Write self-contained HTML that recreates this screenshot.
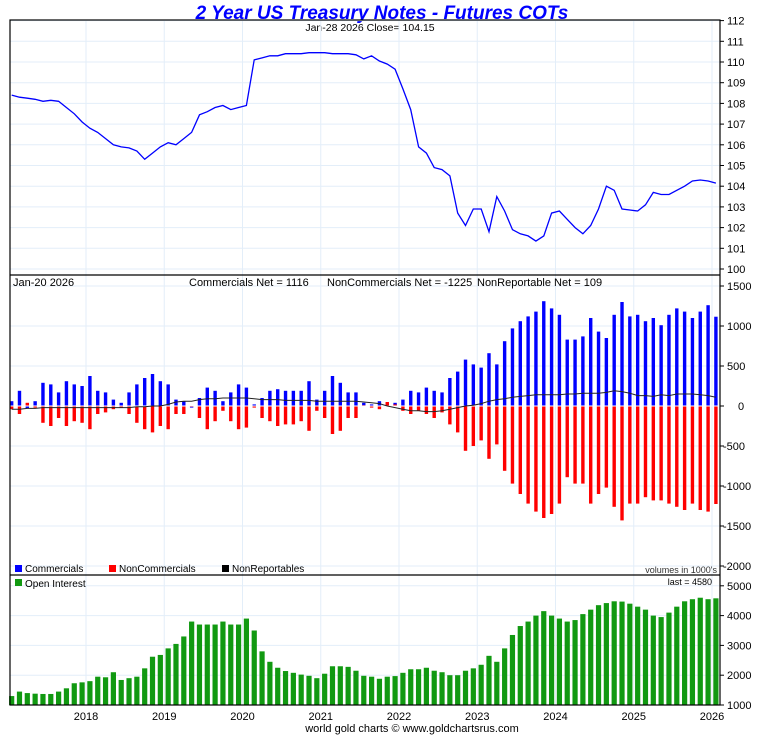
<!DOCTYPE html>
<html><head><meta charset="utf-8"><style>
body{margin:0;background:#fff;}
svg{display:block;font-family:"Liberation Sans",sans-serif;}
</style></head><body>
<svg id="c" width="760" height="735" viewBox="0 0 760 735">
<text x="382" y="19" text-anchor="middle" font-size="19" font-weight="bold" font-style="italic" fill="#0000ff">2 Year US Treasury Notes - Futures COTs</text>
<text x="370" y="31" text-anchor="middle" font-size="10.5" fill="#000">Jan-28  2026   Close= 104.15</text>
</svg>
<script>
const years = [2018,2019,2020,2021,2022,2023,2024,2025,2026];
const priceTicks = [100,101,102,103,104,105,106,107,108,109,110,111,112];
const cotTicks = [1500,1000,500,0,-500,-1000,-1500,-2000];
const oiTicks = [5000,4000,3000,2000,1000];
const startYear = 2017.05, stepYear = 0.1;
const price = [108.4,108.3,108.25,108.2,108.1,108.15,108.1,107.8,107.5,107.1,
106.8,106.6,106.3,106.0,105.9,105.85,105.7,105.3,105.6,105.9,
106.1,106.0,106.3,106.6,107.45,107.6,107.8,107.9,107.7,107.8,
107.9,110.1,110.2,110.3,110.3,110.4,110.4,110.4,110.45,110.45,
110.45,110.4,110.4,110.4,110.35,110.15,110.3,110.05,109.9,109.65,
108.7,107.7,105.9,105.6,104.9,104.8,104.5,102.7,102.1,102.9,
102.9,101.8,103.5,102.8,101.9,101.7,101.6,101.35,101.6,102.7,
102.8,102.4,102.0,101.7,102.1,102.9,104.0,103.8,102.9,102.85,
102.8,103.1,103.7,103.6,103.6,103.8,104.0,104.25,104.3,104.25,
104.15];
const commercials = [60,190,-30,60,290,270,170,310,270,250,
375,190,170,80,40,170,270,350,400,310,
270,80,60,-20,100,230,190,60,170,270,
230,20,100,190,210,190,190,190,310,80,
190,375,290,170,170,40,20,60,30,40,
80,190,170,230,190,170,350,430,580,520,
480,660,520,810,970,1060,1120,1180,1310,1220,
1140,830,830,870,1100,930,850,1140,1300,1120,
1140,1060,1100,1010,1140,1220,1180,1100,1180,1260,
1116];
const nonCommercials = [-40,-100,40,-20,-210,-250,-150,-250,-190,-210,
-290,-100,-80,-40,-20,-100,-210,-290,-330,-250,
-290,-100,-100,-10,-150,-290,-190,-60,-190,-290,
-270,-20,-150,-190,-250,-230,-230,-190,-310,-60,
-150,-350,-310,-150,-150,10,-20,-40,50,20,
-60,-100,-60,-100,-150,-80,-230,-330,-560,-500,
-430,-660,-480,-810,-970,-1100,-1220,-1320,-1400,-1350,
-1220,-890,-970,-970,-1220,-1100,-1020,-1260,-1430,-1220,
-1220,-1140,-1180,-1180,-1220,-1260,-1300,-1220,-1300,-1320,
-1225];
const nonReportables = [-40,-40,-30,-30,-20,-20,-20,-20,-20,-20,
-20,-20,-20,-20,-20,-20,-10,-10,0,0,
20,50,60,60,80,90,90,100,100,100,
100,90,80,80,80,70,70,70,70,60,
60,60,60,60,60,50,40,30,0,-20,
-40,-60,-60,-70,-70,-60,-40,-20,0,10,
30,60,80,90,110,120,130,140,140,140,
140,150,150,160,160,160,170,190,180,160,
130,130,120,140,130,150,150,150,140,130,
109];
const openInterest = [1300,1450,1400,1380,1370,1370,1450,1560,1730,1760,
1800,1950,1930,2100,1840,1900,1950,2230,2620,2680,
2900,3050,3300,3800,3700,3700,3700,3800,3700,3700,
3900,3500,2800,2450,2250,2140,2080,2020,1980,1900,
2050,2300,2300,2280,2150,1980,1950,1880,1950,1970,
2080,2200,2200,2250,2150,2100,2000,2000,2150,2230,
2350,2650,2450,2900,3350,3650,3800,4000,4150,4000,
3900,3800,3850,4050,4200,4350,4420,4480,4470,4400,
4300,4200,4000,3950,4100,4300,4480,4550,4600,4550,
4580];

const NS="http://www.w3.org/2000/svg";
const svg=document.getElementById('c');
function mk(tag,attrs,parent){const e=document.createElementNS(NS,tag);for(const k in attrs)e.setAttribute(k,attrs[k]);(parent||svg).appendChild(e);return e;}
const L=10,R=720;
const xT=t=>86+(t-2018)*78.25;
const yP=v=>269-(v-100)*20.7;
const yC=v=>406-v*0.08;
const yO=v=>705-(v-1000)*0.0298;
const tAt=i=>startYear+i*stepYear;

const grid=mk('g',{stroke:'#e3eef9','stroke-width':1});


years.forEach(y=>{mk('line',{x1:xT(y),x2:xT(y),y1:20,y2:705},grid);});
priceTicks.forEach(v=>{mk('line',{x1:L,x2:R,y1:yP(v),y2:yP(v)},grid);});
cotTicks.forEach(v=>{if(v!==0)mk('line',{x1:L,x2:R,y1:yC(v),y2:yC(v)},grid);});
oiTicks.forEach(v=>{mk('line',{x1:L,x2:R,y1:yO(v),y2:yO(v)},grid);});

let d='';price.forEach((v,i)=>{d+=(i?'L':'M')+xT(tAt(i)).toFixed(1)+','+yP(v).toFixed(1);});
const pl=mk('path',{d:d,fill:'none',stroke:'#0000ff','stroke-width':1.3});



const bw=3.4;
const cg=mk('g',{});


commercials.forEach((v,i)=>{
  const x=xT(tAt(i))-bw/2;
  const r=mk('rect',{x:x,y:Math.min(yC(v),yC(0)),width:bw,height:Math.abs(yC(v)-yC(0)),fill:'#0000ff'},cg);
  
  
});
nonCommercials.forEach((v,i)=>{
  const x=xT(tAt(i))-bw/2;
  const r=mk('rect',{x:x,y:Math.min(yC(v),yC(0)),width:bw,height:Math.abs(yC(v)-yC(0)),fill:'#ff0000'},cg);
  
  
});
mk('line',{x1:L,x2:R,y1:yC(0),y2:yC(0),stroke:'#fff','stroke-width':1});
d='';nonReportables.forEach((v,i)=>{d+=(i?'L':'M')+xT(tAt(i)).toFixed(1)+','+yC(v).toFixed(1);});
const nl=mk('path',{d:d,fill:'none',stroke:'#222','stroke-width':1});



const og=mk('g',{});


openInterest.forEach((v,i)=>{
  const x=xT(tAt(i))-2.6;
  const r=mk('rect',{x:x,y:yO(v),width:5.2,height:705-yO(v),fill:'#119911'},og);
  
  
});

const fr=mk('g',{fill:'none',stroke:'#000','stroke-width':1.2});


mk('rect',{x:L,y:20,width:R-L,height:685},fr);
mk('line',{x1:L,x2:R,y1:275,y2:275},fr);
mk('line',{x1:L,x2:R,y1:575,y2:575},fr);

function txt(s,x,y,opts,name){const t=mk('text',Object.assign({x:x,y:y,'font-size':11,fill:'#000'},opts||{}));t.textContent=s;return t;}
priceTicks.forEach(v=>{mk('line',{x1:R,x2:R+4,y1:yP(v),y2:yP(v),stroke:'#000'});txt(String(v),727,yP(v)+4,{},'price-tick-label');});
cotTicks.forEach(v=>{mk('line',{x1:R,x2:R+4,y1:yC(v),y2:yC(v),stroke:'#000'});txt(String(v),v<0?723:(v===0?738:727),yC(v)+4,{},'cot-tick-label');});
oiTicks.forEach(v=>{mk('line',{x1:R,x2:R+4,y1:yO(v),y2:yO(v),stroke:'#000'});txt(String(v),727,yO(v)+4,{},'oi-tick-label');});
years.forEach(y=>{txt(String(y),xT(y),720,{'text-anchor':'middle'},'x-tick-label');});

txt('Jan-20  2026',13,286,{},'cot-date');
txt('Commercials Net = 1116',189,286,{},'commercials-net');
txt('NonCommercials Net = -1225',327,286,{},'noncommercials-net');
txt('NonReportable Net = 109',477,286,{},'nonreportable-net');
const legend=[['Commercials','#0000ff',15],['NonCommercials','#ff0000',109],['NonReportables','#000',222]];
legend.forEach(l=>{const r=mk('rect',{x:l[2],y:565,width:7,height:7,fill:l[1]});txt(l[0],l[2]+10,572,{'font-size':10},'legend-entry');});
txt("volumes in 1000's",717,573,{'text-anchor':'end','font-size':9,fill:'#333'},'volumes-note');
const os=mk('rect',{x:15,y:579,width:7,height:7,fill:'#119911'});


txt('Open Interest',25,587,{'font-size':10},'oi-legend-entry');
txt('last = 4580',712,585,{'text-anchor':'end','font-size':9},'oi-last');
txt('world gold charts \u00a9 www.goldchartsrus.com',412,732,{'text-anchor':'middle'},'footer-credit');
</script>
</body></html>
